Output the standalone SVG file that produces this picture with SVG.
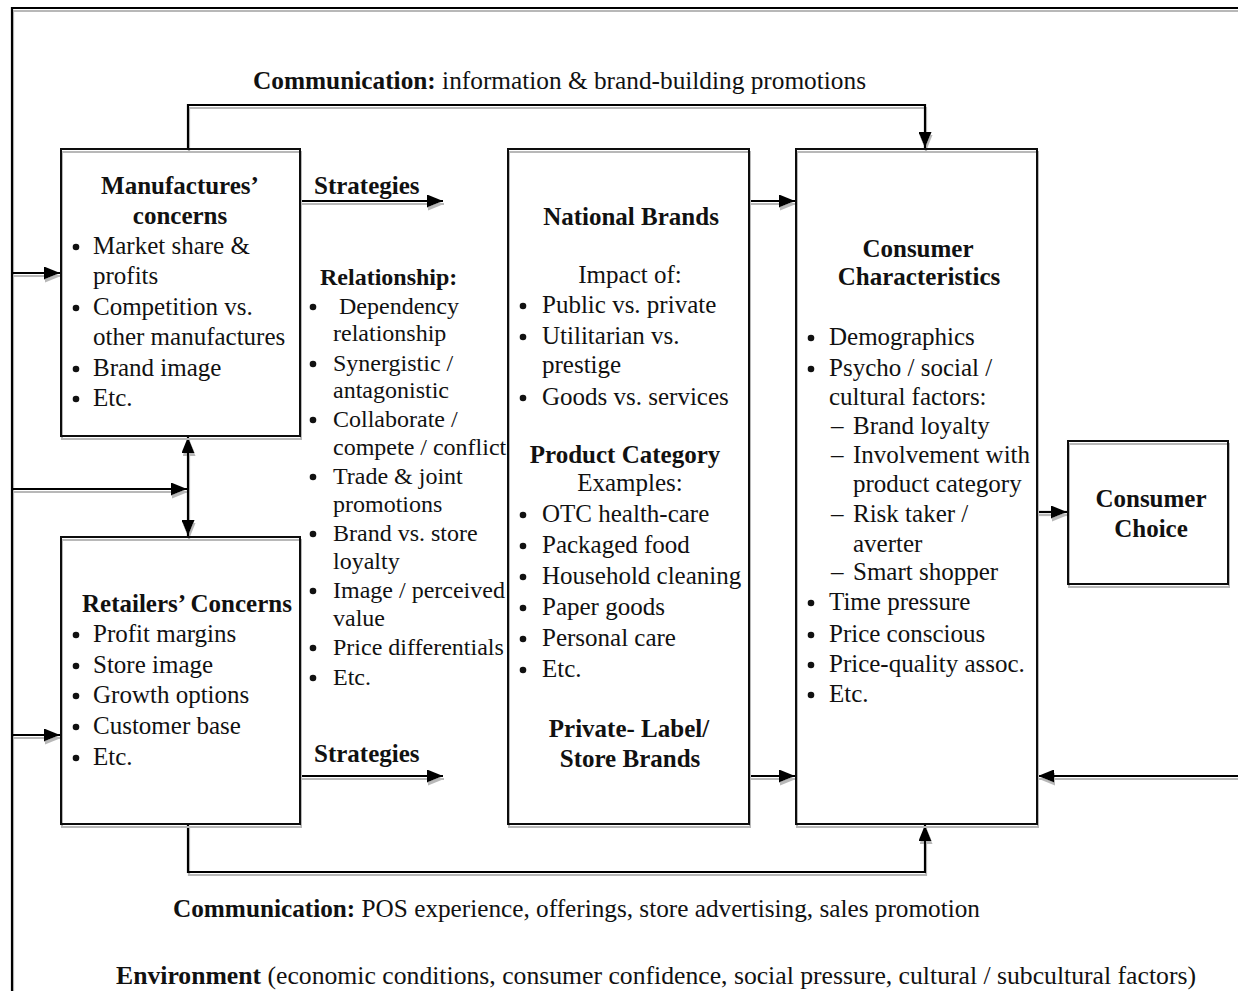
<svg xmlns="http://www.w3.org/2000/svg" width="1238" height="991" viewBox="0 0 1238 991">
<style>
text{font-family:"Liberation Serif","Times New Roman",serif;font-size:25px;fill:#111}
.r text{font-size:24px}
.r text.s{font-size:25px}
.b{font-weight:bold}
.m{text-anchor:middle}
.box{fill:none;stroke:#111;stroke-width:2}
.ln{fill:none;stroke:#000;stroke-width:2.2}
.d{fill:#111}
</style>
<defs>
<filter id="sh" x="-5%" y="-5%" width="110%" height="110%">
<feDropShadow dx="1" dy="3" stdDeviation="0.6" flood-color="#b8b8b8" flood-opacity="1"/>
</filter>
<marker id="ah" markerUnits="userSpaceOnUse" markerWidth="16" markerHeight="13" viewBox="0 0 16 13" refX="16" refY="6.5" orient="auto">
<path d="M0,0 L16,6.5 L0,13 z" fill="#000"/>
</marker>
<marker id="as" markerUnits="userSpaceOnUse" markerWidth="16" markerHeight="13" viewBox="0 0 16 13" refX="0" refY="6.5" orient="auto">
<path d="M16,0 L0,6.5 L16,13 z" fill="#000"/>
</marker>
</defs>
<rect width="1238" height="991" fill="#fff"/>

<g id="connectors" filter="url(#sh)">
<path class="ln" d="M12,991 L12,8 L1238,8"/>
<path class="ln" d="M188,149 L188,105 L925,105 L925,148" marker-end="url(#ah)"/>
<path class="ln" d="M188,824 L188,872 L925,872 L925,825" marker-end="url(#ah)"/>
<path class="ln" d="M300,201 L443,201" marker-end="url(#ah)"/>
<path class="ln" d="M300,776 L443,776" marker-end="url(#ah)"/>
<path class="ln" d="M749,201 L795,201" marker-end="url(#ah)"/>
<path class="ln" d="M749,776 L795,776" marker-end="url(#ah)"/>
<path class="ln" d="M1037,512 L1067,512" marker-end="url(#ah)"/>
<path class="ln" d="M1238,776 L1038,776" marker-end="url(#ah)"/>
<path class="ln" d="M12,273 L60,273" marker-end="url(#ah)"/>
<path class="ln" d="M12,489 L187,489" marker-end="url(#ah)"/>
<path class="ln" d="M12,735 L60,735" marker-end="url(#ah)"/>
<path class="ln" d="M188,437 L188,536" marker-start="url(#as)" marker-end="url(#ah)"/>
</g>

<g id="label-comm-top">
<text x="253" y="89" textLength="613" lengthAdjust="spacingAndGlyphs"><tspan class="b">Communication:</tspan> information &amp; brand-building promotions</text>
</g>
<g id="label-comm-bottom">
<text x="173" y="917" textLength="807" lengthAdjust="spacingAndGlyphs"><tspan class="b">Communication:</tspan> POS experience, offerings, store advertising, sales promotion</text>
</g>
<g id="label-environment">
<text x="116" y="984" textLength="1080" lengthAdjust="spacingAndGlyphs"><tspan class="b">Environment</tspan> (economic conditions, consumer confidence, social pressure, cultural / subcultural factors)</text>
</g>

<g id="manufacturers">
<rect class="box" x="61" y="149" width="239" height="287" filter="url(#sh)"/>
<text class="b m" x="180" y="194">Manufactures’</text>
<text class="b m" x="180" y="224">concerns</text>
<circle class="d" cx="76" cy="247" r="3.3"/><text x="93" y="254">Market share &amp;</text>
<text x="93" y="284">profits</text>
<circle class="d" cx="76" cy="308" r="3.3"/><text x="93" y="315">Competition vs.</text>
<text x="93" y="345">other manufactures</text>
<circle class="d" cx="76" cy="369" r="3.3"/><text x="93" y="376">Brand image</text>
<circle class="d" cx="76" cy="399" r="3.3"/><text x="93" y="406">Etc.</text>
</g>

<g id="retailers">
<rect class="box" x="61" y="537" width="239" height="287" filter="url(#sh)"/>
<text class="b" x="82" y="612">Retailers’ Concerns</text>
<circle class="d" cx="76" cy="635" r="3.3"/><text x="93" y="642">Profit margins</text>
<circle class="d" cx="76" cy="666" r="3.3"/><text x="93" y="673">Store image</text>
<circle class="d" cx="76" cy="696" r="3.3"/><text x="93" y="703">Growth options</text>
<circle class="d" cx="76" cy="727" r="3.3"/><text x="93" y="734">Customer base</text>
<circle class="d" cx="76" cy="758" r="3.3"/><text x="93" y="765">Etc.</text>
</g>

<g id="relationship" class="r">
<text class="b s" x="314" y="194">Strategies</text>
<text class="b s" x="314" y="762">Strategies</text>
<text class="b" x="320" y="285">Relationship:</text>
<circle class="d" cx="313" cy="307" r="3.3"/><text x="333" y="314" xml:space="preserve"> Dependency</text>
<text x="333" y="341">relationship</text>
<circle class="d" cx="313" cy="364" r="3.3"/><text x="333" y="371">Synergistic /</text>
<text x="333" y="398">antagonistic</text>
<circle class="d" cx="313" cy="420" r="3.3"/><text x="333" y="427">Collaborate /</text>
<text x="333" y="455">compete / conflict</text>
<circle class="d" cx="313" cy="477" r="3.3"/><text x="333" y="484">Trade &amp; joint</text>
<text x="333" y="512">promotions</text>
<circle class="d" cx="313" cy="534" r="3.3"/><text x="333" y="541">Brand vs. store</text>
<text x="333" y="569">loyalty</text>
<circle class="d" cx="313" cy="591" r="3.3"/><text x="333" y="598">Image / perceived</text>
<text x="333" y="626">value</text>
<circle class="d" cx="313" cy="648" r="3.3"/><text x="333" y="655">Price differentials</text>
<circle class="d" cx="313" cy="678" r="3.3"/><text x="333" y="685">Etc.</text>
</g>

<g id="brands">
<rect class="box" x="508" y="149" width="241" height="675" filter="url(#sh)"/>
<text class="b m" x="631" y="225">National Brands</text>
<text class="m" x="630" y="283">Impact of:</text>
<circle class="d" cx="523" cy="306" r="3.3"/><text x="542" y="313">Public vs. private</text>
<circle class="d" cx="523" cy="337" r="3.3"/><text x="542" y="344">Utilitarian vs.</text>
<text x="542" y="373">prestige</text>
<circle class="d" cx="523" cy="398" r="3.3"/><text x="542" y="405">Goods vs. services</text>
<text class="b m" x="625" y="463">Product Category</text>
<text class="m" x="630" y="491">Examples:</text>
<circle class="d" cx="523" cy="515" r="3.3"/><text x="542" y="522">OTC health-care</text>
<circle class="d" cx="523" cy="546" r="3.3"/><text x="542" y="553">Packaged food</text>
<circle class="d" cx="523" cy="577" r="3.3"/><text x="542" y="584">Household cleaning</text>
<circle class="d" cx="523" cy="608" r="3.3"/><text x="542" y="615">Paper goods</text>
<circle class="d" cx="523" cy="639" r="3.3"/><text x="542" y="646">Personal care</text>
<circle class="d" cx="523" cy="670" r="3.3"/><text x="542" y="677">Etc.</text>
<text class="b m" x="629" y="737">Private- Label/</text>
<text class="b m" x="630" y="767">Store Brands</text>
</g>

<g id="consumer-characteristics">
<rect class="box" x="796" y="149" width="241" height="675" filter="url(#sh)"/>
<text class="b m" x="918" y="257">Consumer</text>
<text class="b m" x="919" y="285">Characteristics</text>
<circle class="d" cx="811" cy="338" r="3.3"/><text x="829" y="345">Demographics</text>
<circle class="d" cx="811" cy="369" r="3.3"/><text x="829" y="376">Psycho / social /</text>
<text x="829" y="405">cultural factors:</text>
<text x="831" y="434">–</text><text x="853" y="434">Brand loyalty</text>
<text x="831" y="463">–</text><text x="853" y="463">Involvement with</text>
<text x="853" y="492">product category</text>
<text x="831" y="522">–</text><text x="853" y="522">Risk taker /</text>
<text x="853" y="552">averter</text>
<text x="831" y="580">–</text><text x="853" y="580">Smart shopper</text>
<circle class="d" cx="811" cy="603" r="3.3"/><text x="829" y="610">Time pressure</text>
<circle class="d" cx="811" cy="635" r="3.3"/><text x="829" y="642">Price conscious</text>
<circle class="d" cx="811" cy="665" r="3.3"/><text x="829" y="672">Price-quality assoc.</text>
<circle class="d" cx="811" cy="695" r="3.3"/><text x="829" y="702">Etc.</text>
</g>

<g id="consumer-choice">
<rect class="box" x="1068" y="441" width="160" height="143" filter="url(#sh)"/>
<text class="b m" x="1151" y="507">Consumer</text>
<text class="b m" x="1151" y="537">Choice</text>
</g>
</svg>
